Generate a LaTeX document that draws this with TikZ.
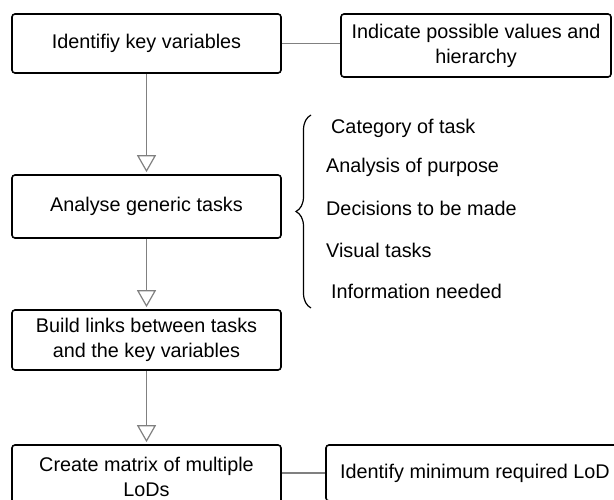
\documentclass[tikz,border=0pt]{standalone}
\usepackage{fontspec}
\setmainfont{Liberation Sans}
\usetikzlibrary{arrows.meta, decorations.pathreplacing}

\begin{document}
\begin{tikzpicture}[x=1pt, y=-1pt,
    box/.style={draw=black, line width=1.6pt, rounded corners=3pt, fill=white,
        align=center, inner sep=0pt, font=\fontsize{19.8}{25}\selectfont},
    link/.style={draw=gray, line width=1.2pt},
    flow/.style={link, -{Triangle[width=19pt, length=17pt, fill=white]}, shorten >=2pt},
    item/.style={anchor=west, inner sep=0pt, font=\fontsize{19.8}{25}\selectfont}]
                \clip (0, 0) rectangle (614, 500);

                \node[box, minimum width=269pt, minimum height=59pt] (S1) at (146.5, 43.5) {Identifiy key variables};
                \node[box, minimum width=269pt, minimum height=63pt] (S2) at (146.5, 206.5) {Analyse generic tasks};
                \node[box, minimum width=269pt, minimum height=60pt] (S3) at (146.5, 340) {Build links between tasks\\and the key variables};
                \node[box, minimum width=269pt, minimum height=63pt] (S4) at (146.5, 476.5) {Create matrix of multiple\\LoDs};

                \node[box, minimum width=270pt, minimum height=63pt] (R1) at (476, 45.5) {Indicate possible values and\\hierarchy};
                \node[box, minimum width=298pt, minimum height=56pt] (R4) at (475, 473) {Identify minimum required LoD};

                \node[item] (L1) at (331, 128) {Category of task};
                \node[item] (L2) at (326, 167) {Analysis of purpose};
                \node[item] (L3) at (326, 208) {Decisions to be made};
                \node[item] (L4) at (326, 250) {Visual tasks};
                \node[item] (L5) at (331, 291) {Information needed};

                \draw[flow] (S1) -- (S2);
                \draw[flow] (S2) -- (S3);
                \draw[flow] (S3) -- (S4);

                \draw[link] (S1.east) -- (S1.east -| R1.west);
                \draw[link] (R4.west -| S4.east) -- (R4.west);

                \draw[decorate, decoration={brace, amplitude=15pt}, line width=1.2pt] (311, 308) -- (311, 115);
            \end{tikzpicture}
\end{document}
